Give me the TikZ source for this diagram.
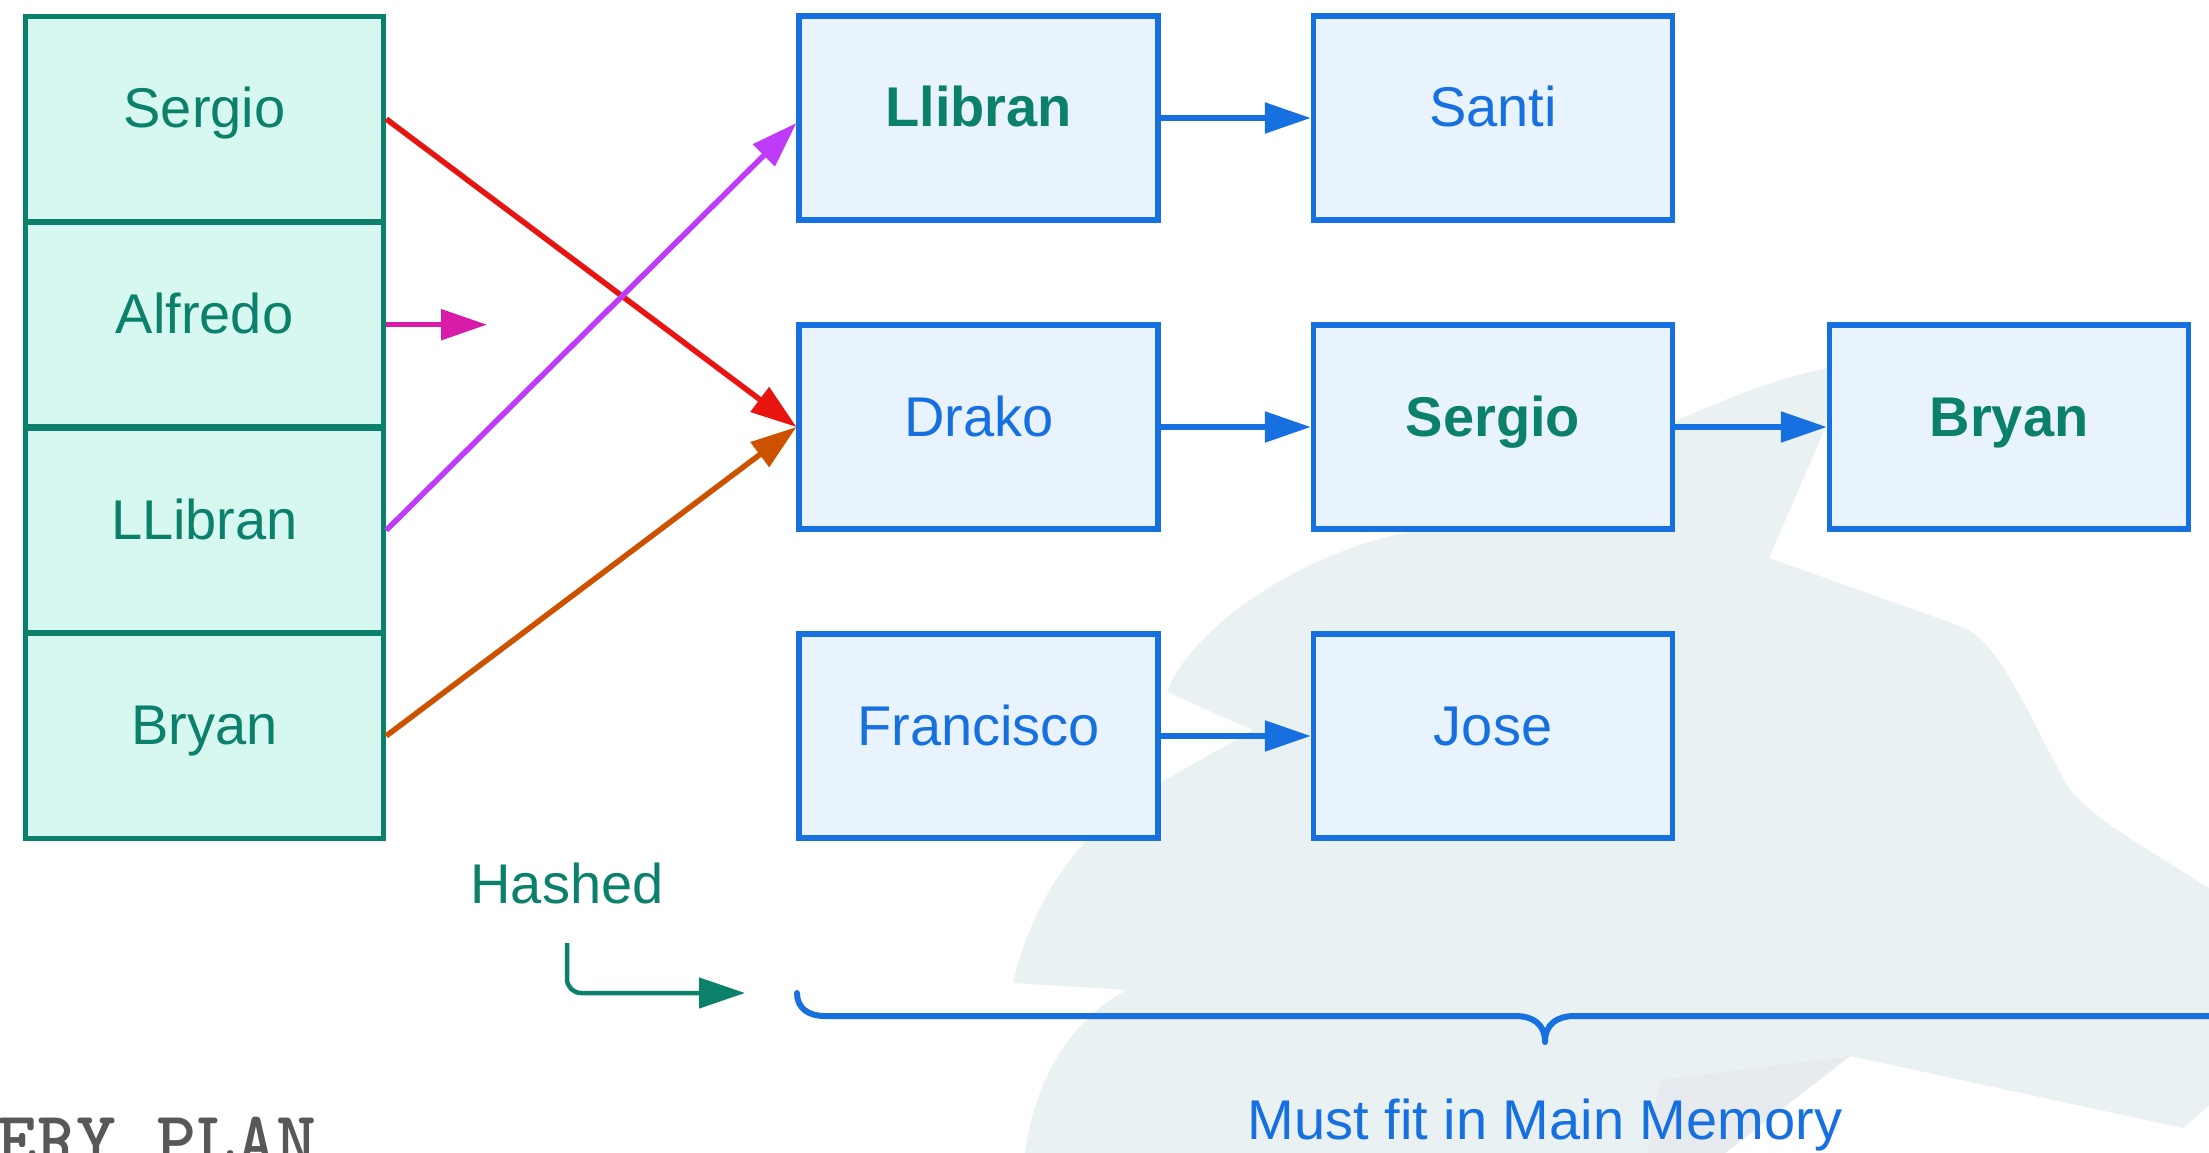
\documentclass[tikz,border=0pt]{standalone}
\usepackage{fontspec}
\setmainfont{Liberation Sans}
\usetikzlibrary{arrows.meta}

\definecolor{cellline}{HTML}{0B806A}
\definecolor{cellfill}{HTML}{D6F8F1}
\definecolor{chainline}{HTML}{1670E0}
\definecolor{chainfill}{HTML}{E8F3FE}
\definecolor{redlink}{HTML}{E8140F}
\definecolor{pinklink}{HTML}{D81BA8}
\definecolor{violetlink}{HTML}{BE3BFA}
\definecolor{orangelink}{HTML}{CC5200}
\definecolor{wmark}{HTML}{E9F1F3}
\definecolor{wmarkgray}{HTML}{E7EAEF}
\definecolor{plangray}{HTML}{585858}

\tikzset{
  txtbig/.style={font=\fontsize{56}{62}\selectfont},
  boxbase/.style={txtbig, rectangle, inner sep=0pt, line width=5.5pt,
    text height=42pt, text depth=24pt},
  hashcell/.style={boxbase, draw=cellline, fill=cellfill, text=cellline,
    minimum width=358pt, minimum height=205pt},
  chainbox/.style={boxbase, draw=chainline, fill=chainfill, text=chainline,
    minimum width=359pt, minimum height=204pt},
  keybox/.style={chainbox, text=cellline, font=\fontsize{56}{62}\selectfont\bfseries},
  link/.style={-{Triangle[length=46pt,width=30pt]}, line width=5.5pt},
  braceline/.style={draw=chainline, line width=6pt, line cap=round, line join=round},
  caption/.style={txtbig, inner sep=0pt, anchor=base}
}

\begin{document}
\begin{tikzpicture}[x=1pt, y=-1pt]
  \useasboundingbox (0,0) rectangle (2209,1153);
  \fill[white] (0,0) rectangle (2209,1153);

  % faint watermark silhouette behind the lists
  \fill[wmark] (1025,1153)
    .. controls (1035,1080) and (1070,1020) .. (1127,990)
    -- (1013,983)
    .. controls (1035,890) and (1090,820) .. (1160,783)
    -- (1253,730) -- (1167,692)
    .. controls (1190,630) and (1300,550) .. (1420,530)
    .. controls (1540,500) and (1700,390) .. (1838,366)
    -- (1823,433) -- (1769,558)
    -- (1960,626)
    .. controls (2000,640) and (2030,720) .. (2067,785)
    .. controls (2085,815) and (2150,850) .. (2215,892)
    -- (2215,1100) -- (2183,1128) -- (1850,1056) -- (1725,1153) -- cycle;
  \fill[wmarkgray] (1660,1080) -- (1850,1056) -- (1725,1153) -- (1648,1153) -- cycle;

  % hash table cells
  \node[hashcell] (h1) at (204.5,119)   {Sergio};
  \node[hashcell] (h2) at (204.5,324.7) {Alfredo};
  \node[hashcell] (h3) at (204.5,530.3) {LLibran};
  \node[hashcell] (h4) at (204.5,735.9) {Bryan};

  % bucket chains
  \node[keybox]   (llibran)   at (978.7,118) {Llibran};
  \node[chainbox] (santi)     at (1493,118)  {Santi};
  \node[chainbox] (drako)     at (978.7,427) {Drako};
  \node[keybox]   (sergio)    at (1493,427)  {Sergio};
  \node[keybox]   (bryan)     at (2009,427)  {Bryan};
  \node[chainbox] (francisco) at (978.7,736) {Francisco};
  \node[chainbox] (jose)      at (1493,736)  {Jose};

  % chain links
  \draw[link, chainline] (llibran.east) -- (santi.west);
  \draw[link, chainline] (drako.east) -- (sergio.west);
  \draw[link, chainline] (sergio.east) -- (bryan.west);
  \draw[link, chainline] (francisco.east) -- (jose.west);

  % hashed keys pointing into the buckets
  \coordinate (alfredoEnd) at (487,324.7);
  \draw[link, redlink]    (h1.east) -- (drako.west);
  \draw[link, pinklink]   (h2.east) -- (alfredoEnd);
  \draw[link, violetlink] (h3.east) -- ([yshift=-5pt]llibran.west);
  \draw[link, orangelink] (h4.east) -- (drako.west);

  % "Hashed" marker
  \node[caption, text=cellline] (hashed) at (567,903) {Hashed};
  \coordinate (hashStart) at (567,943);
  \coordinate (hashEnd) at (745,993);
  \draw[link, cellline, line width=4.5pt, rounded corners=14pt] (hashStart) |- (hashEnd);

  % brace under the buckets
  \draw[braceline] (797,993)
    .. controls (797,1008) and (808,1016) .. (825,1016)
    -- (1515,1016)
    .. controls (1533,1016) and (1545,1024) .. (1545,1042)
    .. controls (1545,1024) and (1557,1016) .. (1575,1016)
    -- (2215,1016);
  \node[caption, text=chainline] (memory) at (1545,1139) {Must fit in Main Memory};

  % caption running off the lower edge
  \node[anchor=base west, inner sep=0pt, text=plangray,
        font=\ttfamily\bfseries\fontsize{76}{80}\selectfont] (plan) at (-3,1164) {ERY PLAN};
\end{tikzpicture}
\end{document}
